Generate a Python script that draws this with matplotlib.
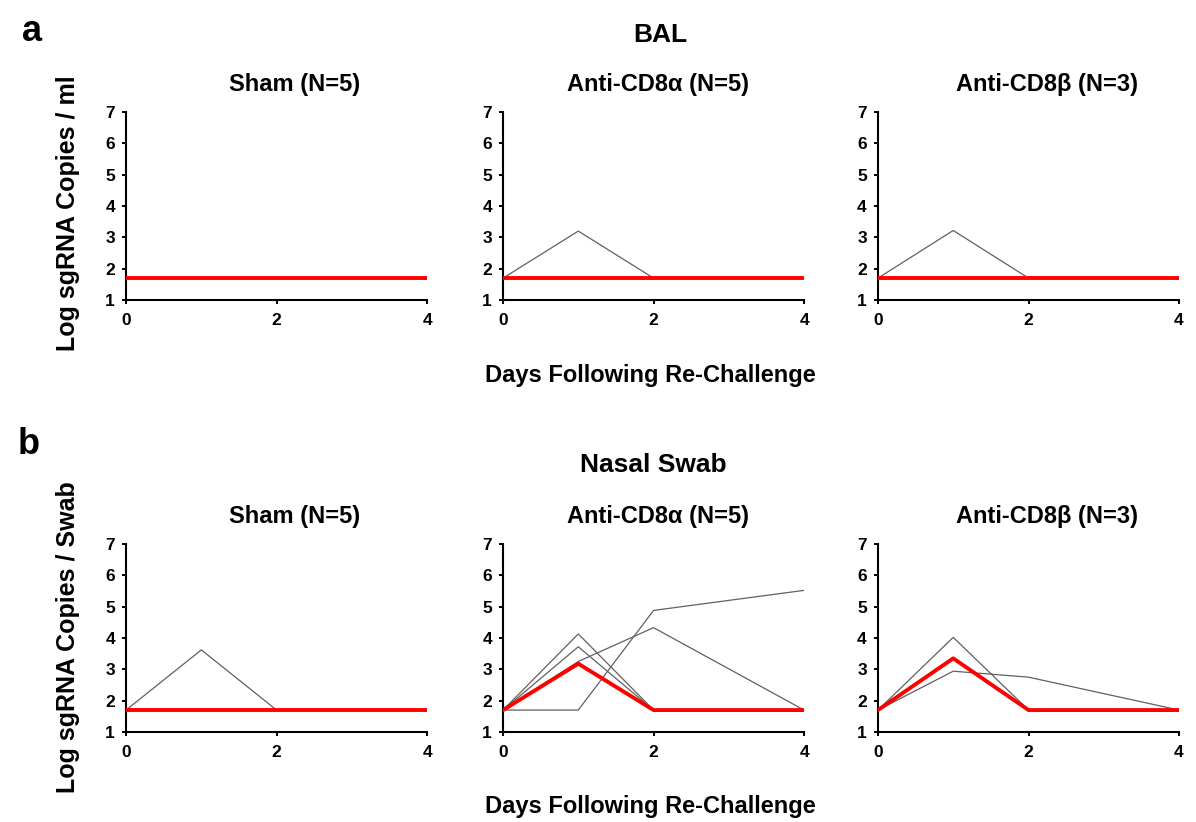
import matplotlib
matplotlib.use("Agg")
import matplotlib.pyplot as plt
import numpy as np

plt.rcParams['font.family'] = ['Liberation Sans', 'DejaVu Sans']
plt.rcParams['font.weight'] = 'bold'

days = [0, 1, 2, 4]
groups = ["Sham (N=5)", "Anti-CD8\u03b1 (N=5)", "Anti-CD8\u03b2 (N=3)"]

# BAL, individual animals (log sgRNA copies / ml)
bal_sham = [[1.7, 1.7, 1.7, 1.7]]
bal_cd8a = [[1.7, 3.2, 1.7, 1.7]]
bal_cd8b = [[1.7, 3.22, 1.7, 1.7]]
bal_mean = [[1.7, 1.7, 1.7, 1.7],
            [1.7, 1.7, 1.7, 1.7],
            [1.7, 1.7, 1.7, 1.7]]

# nasal swab, individual animals (log sgRNA copies / swab)
ns_sham = [[1.7, 3.62, 1.7, 1.7]]
ns_cd8a = [[1.7, 4.13, 1.7, 1.7],
           [1.7, 3.72, 1.7, 1.7],
           [1.7, 3.25, 4.33, 1.7],
           [1.7, 1.7, 4.88, 5.52]]
ns_cd8b = [[1.7, 4.02, 1.7, 1.7],
           [1.7, 2.94, 2.75, 1.7]]
ns_mean = [[1.7, 1.7, 1.7, 1.7],
           [1.7, 3.18, 1.7, 1.7],
           [1.7, 3.35, 1.7, 1.7]]

fig = plt.figure(figsize=(11.96, 8.22), dpi=100)

lefts = [0.1054, 0.4206, 0.7341]
width = 0.2517
height = 0.2287
title_x = [0.56, 0.515, 0.56]


def draw_row(bottom, animals, means, ylabel, ylab_y):
    axes = []
    for i in range(3):
        ax = fig.add_axes([lefts[i], bottom, width, height])
        for a in animals[i]:
            ax.plot(days, a, color='#606060', lw=0.9, zorder=2)
        ax.plot(days, means[i], color='#ff0000', lw=2.8, zorder=3)
        ax.set_xlim(0, 4)
        ax.set_ylim(1, 7)
        ax.set_xticks([0, 2, 4])
        ax.set_yticks(range(1, 8))
        ax.spines['top'].set_visible(False)
        ax.spines['right'].set_visible(False)
        for s in ('left', 'bottom'):
            ax.spines[s].set_linewidth(1.5)
            ax.spines[s].set_clip_on(False)
        ax.tick_params(axis='both', direction='out', length=3, width=1.4,
                       labelsize=12.5)
        ax.tick_params(axis='y', pad=5)
        ax.tick_params(axis='x', pad=6.5)
        for lab in ax.get_xticklabels() + ax.get_yticklabels():
            lab.set_fontweight('bold')
        ax.set_title(groups[i], fontsize=17, fontweight='bold', pad=15,
                     x=title_x[i])
        axes.append(ax)
    fig.text(0.057, ylab_y, ylabel, rotation=90,
             ha='center', va='center', fontsize=18, fontweight='bold')
    return axes


draw_row(0.635, [bal_sham, bal_cd8a, bal_cd8b], bal_mean,
         "Log sgRNA Copies / ml", 0.741)
draw_row(0.1095, [ns_sham, ns_cd8a, ns_cd8b], ns_mean,
         "Log sgRNA Copies / Swab", 0.225)

fig.text(0.018, 0.983, "a", fontsize=26, fontweight='bold', va='top')
fig.text(0.015, 0.4805, "b", fontsize=26, fontweight='bold', va='top')
fig.text(0.552, 0.957, "BAL", ha='center', va='center', fontsize=19, fontweight='bold')
fig.text(0.546, 0.434, "Nasal Swab", ha='center', va='center', fontsize=19, fontweight='bold')
fig.text(0.544, 0.543, "Days Following Re-Challenge", ha='center', va='center',
         fontsize=17, fontweight='bold')
fig.text(0.544, 0.019, "Days Following Re-Challenge", ha='center', va='center',
         fontsize=17, fontweight='bold')

fig.savefig("out.png", dpi=100)
